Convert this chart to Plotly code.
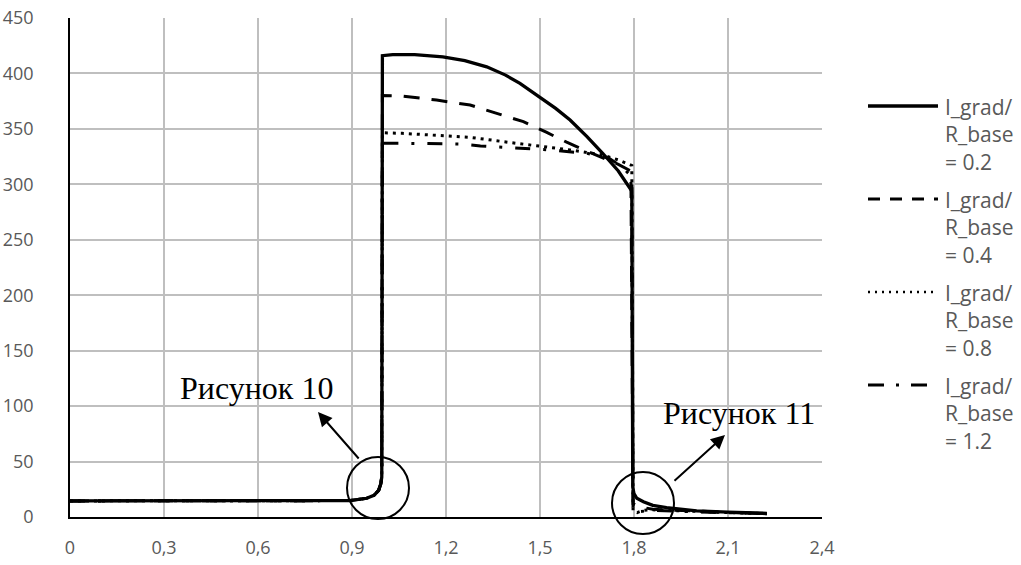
import plotly.graph_objects as go

# ---- axis ticks ----
x_tick_vals = [0, 0.3, 0.6, 0.9, 1.2, 1.5, 1.8, 2.1, 2.4]
x_tick_text = ["0", "0,3", "0,6", "0,9", "1,2", "1,5", "1,8", "2,1", "2,4"]
y_tick_vals = [0, 50, 100, 150, 200, 250, 300, 350, 400, 450]

# ---- common low-level section before the jump ----
x_base = [0, 0.3, 0.6, 0.894, 0.947, 0.97, 0.985, 0.992, 0.995]
y_base = [14.5, 14.6, 14.7, 14.8, 16.9, 19.5, 24, 30, 36]

# ---- I_grad/R_base = 0.2 ----
x_02 = x_base + [0.997, 1.03, 1.1, 1.19, 1.26, 1.33, 1.39, 1.436, 1.495, 1.55, 1.596, 1.65,
                 1.70, 1.75, 1.793, 1.796, 1.80, 1.809, 1.83, 1.86, 1.904, 2.0, 2.1, 2.224]
y_02 = y_base + [416, 417, 417, 415, 411.5, 406, 398.5, 391, 379, 368.5, 358, 343,
                 328, 312, 294, 27, 21, 16.9, 13.8, 10.5, 8.5, 5.6, 4.4, 3.3]

# ---- I_grad/R_base = 0.4 ----
x_04 = x_base + [0.997, 1.063, 1.17, 1.277, 1.383, 1.447, 1.52, 1.585, 1.65, 1.70, 1.75,
                 1.79, 1.797, 1.82, 1.86, 1.9, 2.0, 2.1, 2.224]
y_04 = y_base + [380, 379.5, 376, 371.5, 362.5, 356.5, 347, 338, 330, 324, 318,
                 312, 12, 9, 7, 6.5, 5.2, 4.2, 3]

# ---- I_grad/R_base = 0.8 ----
x_08 = x_base + [0.997, 1.06, 1.17, 1.277, 1.383, 1.49, 1.596, 1.70, 1.75, 1.793,
                 1.797, 1.81, 1.83, 1.86, 1.9, 2.0, 2.1, 2.224]
y_08 = y_base + [346.5, 346, 344.5, 342.4, 338.5, 334.6, 331, 326.5, 322, 317,
                 5, 4, 6, 6.5, 6, 5, 4, 3]

# ---- I_grad/R_base = 1.2 ----
x_12 = x_base + [0.997, 1.06, 1.245, 1.31, 1.447, 1.53, 1.65, 1.72, 1.76, 1.793,
                 1.797, 1.82, 1.86, 1.9, 2.0, 2.1, 2.224]
y_12 = y_base + [337, 337, 336.4, 334.6, 332.5, 331, 328, 323.7, 316, 307,
                 4, 5, 6, 5.5, 4.6, 3.9, 3]

series = [
    ("I_grad/<br>R_base<br>= 0.2", x_02, y_02, "solid", 3.3),
    ("I_grad/<br>R_base<br>= 0.4", x_04, y_04, "16px,12px", 3),
    ("I_grad/<br>R_base<br>= 0.8", x_08, y_08, "3px,5px", 3),
    ("I_grad/<br>R_base<br>= 1.2", x_12, y_12, "15px,13px,3px,13px", 3),
]

fig = go.Figure()
for name, xs, ys, dash, w in series:
    fig.add_trace(go.Scatter(x=xs, y=ys, mode="lines", name=name,
                             line=dict(color="black", width=w, dash=dash),
                             showlegend=False))

# plot area geometry (px) used for paper-coordinate placement of decorations
W, H = 1021, 565
L, R, T, B = 70, 822, 18, 517
PW, PH = R - L, B - T


def px(x):
    return (x - L) / PW


def py(y):
    return (B - y) / PH


shapes = []
annotations = []

# legend samples and labels on the right
legend_rows = [106, 199, 292, 385]
legend_dash = [("solid", 3.3), ("12px,10px", 3), ("2px,5px", 2.5), ("16px,12px,3px,12px", 3)]
legend_text = ["I_grad/<br>R_base<br>= 0.2", "I_grad/<br>R_base<br>= 0.4",
               "I_grad/<br>R_base<br>= 0.8", "I_grad/<br>R_base<br>= 1.2"]
for yr, (dash, w), txt in zip(legend_rows, legend_dash, legend_text):
    shapes.append(dict(type="line", xref="paper", yref="paper",
                       x0=px(868), x1=px(938), y0=py(yr), y1=py(yr),
                       line=dict(color="black", width=w, dash=dash)))
    annotations.append(dict(xref="paper", yref="paper", x=px(943), y=py(yr - 15),
                            xanchor="left", yanchor="top", text=txt, showarrow=False,
                            align="left",
                            font=dict(family="Open Sans", size=21, color="#595959")))

# highlight circles
for cx, cy in [(378, 488), (643, 503)]:
    shapes.append(dict(type="circle", xref="paper", yref="paper",
                       xsizemode="pixel", ysizemode="pixel",
                       xanchor=px(cx), yanchor=py(cy),
                       x0=-31, x1=31, y0=-31, y1=31,
                       line=dict(color="black", width=2)))

# callout arrows and captions
annotations.append(dict(xref="paper", yref="paper", x=px(318), y=py(412),
                        ax=42, ay=48, showarrow=True, arrowhead=2, arrowsize=1.4,
                        arrowwidth=2, arrowcolor="black", text=""))
annotations.append(dict(xref="paper", yref="paper", x=px(725), y=py(435),
                        ax=-52, ay=47, showarrow=True, arrowhead=2, arrowsize=1.4,
                        arrowwidth=2, arrowcolor="black", text=""))
annotations.append(dict(xref="paper", yref="paper", x=px(256), y=py(388),
                        xanchor="center", yanchor="middle", showarrow=False,
                        text="Рисунок 10",
                        font=dict(family="Liberation Serif", size=32, color="black")))
annotations.append(dict(xref="paper", yref="paper", x=px(739), y=py(413),
                        xanchor="center", yanchor="middle", showarrow=False,
                        text="Рисунок 11",
                        font=dict(family="Liberation Serif", size=32, color="black")))

fig.update_layout(
    width=W, height=H,
    margin=dict(l=L, r=W - R, t=T, b=H - B, pad=0),
    paper_bgcolor="white", plot_bgcolor="white",
    shapes=shapes, annotations=annotations,
    xaxis=dict(range=[0, 2.4], tickvals=x_tick_vals, ticktext=x_tick_text,
               showgrid=True, gridcolor="#BFBFBF", gridwidth=1.5,
               showline=True, linecolor="black", linewidth=1.5,
               zeroline=False, ticks="", ticklabelstandoff=14, automargin=False,
               tickfont=dict(family="Open Sans", size=18, color="#595959")),
    yaxis=dict(range=[0, 450], tickvals=y_tick_vals,
               showgrid=True, gridcolor="#BFBFBF", gridwidth=1.5,
               showline=True, linecolor="black", linewidth=1.5,
               zeroline=False, ticks="", ticklabelstandoff=31, automargin=False,
               tickfont=dict(family="Open Sans", size=18, color="#595959")),
)

fig.write_html("out.html")
